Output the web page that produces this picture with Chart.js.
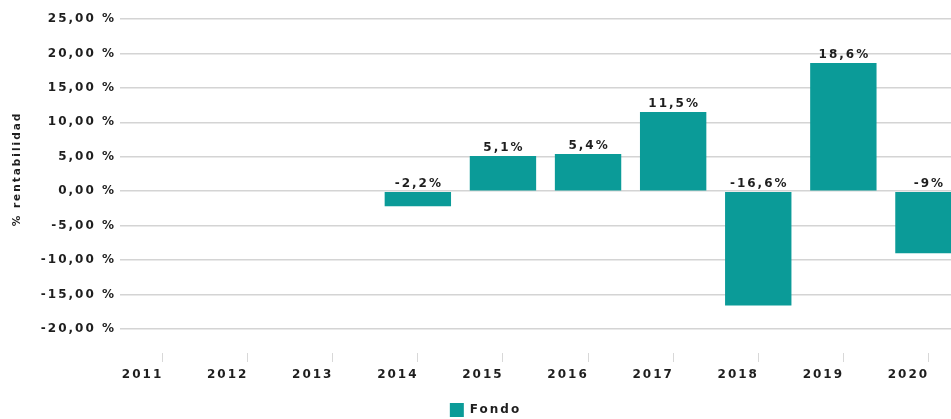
<!DOCTYPE html>
<html>
<head>
<meta charset="utf-8">
<script src="https://cdn.jsdelivr.net/npm/chart.js@4/dist/chart.umd.min.js"></script>
<style>
    html, body { margin: 0; padding: 0; background: #fff; overflow: hidden; }
    .wrapper { width: 975px; height: 419px; }
</style>
</head>
<body>
<div class="wrapper"><canvas id="rentabilidad"></canvas></div>
<script>
const years = ['2011', '2012', '2013', '2014', '2015', '2016', '2017', '2018', '2019', '2020'];
const fondo = [null, null, null, -2.2, 5.1, 5.4, 11.5, -16.6, 18.6, -9];
const yTicks = [-20, -15, -10, -5, 0, 5, 10, 15, 20, 25];
const yTitle = '% rentabilidad';

const TEXT = '#1e1e1e';
const TEAL = '#0b9b98';
const FONT = '"DejaVu Sans", Verdana, sans-serif';

const fmtPct = (v) => `${String(v).replace('.', ',')}%`;

// the picture has widely spaced letters
const spacing = {
    id: 'spacing',
    beforeUpdate(chart) { chart.ctx.letterSpacing = '2px'; },
    beforeDraw(chart) { chart.ctx.letterSpacing = '2px'; }
};

const barLabels = {
    id: 'barLabels',
    afterDatasetsDraw(chart) {
        const ctx = chart.ctx;
        const meta = chart.getDatasetMeta(0);
        ctx.save();
        ctx.font = `bold 12px ${FONT}`;
        ctx.fillStyle = TEXT;
        ctx.textAlign = 'center';
        ctx.textBaseline = 'bottom';
        meta.data.forEach((bar, i) => {
            const v = fondo[i];
            if (v === null) return;
            const top = Math.min(bar.y, bar.base);
            ctx.fillText(fmtPct(v), bar.x + 1, top - 2);
        });
        ctx.restore();
    }
};

// axis title sits a little above the middle in the original
const axisTitle = {
    id: 'axisTitle',
    afterDraw(chart) {
        const ctx = chart.ctx;
        const area = chart.chartArea;
        ctx.save();
        ctx.font = `bold 10.5px ${FONT}`;
        ctx.fillStyle = TEXT;
        ctx.textAlign = 'center';
        ctx.textBaseline = 'middle';
        ctx.translate(17, (area.top + area.bottom) / 2 - 17);
        ctx.rotate(-Math.PI / 2);
        ctx.fillText(yTitle, 0, 0);
        ctx.restore();
    }
};

const chartEle = document.getElementById('rentabilidad');

new Chart(chartEle, {
    type: 'bar',
    data: {
        labels: years,
        datasets: [{
            label: 'Fondo',
            data: fondo,
            backgroundColor: TEAL,
            borderWidth: 0,
            barPercentage: 0.78,
            categoryPercentage: 1
        }]
    },
    options: {
        responsive: true,
        maintainAspectRatio: false,
        animation: false,
        layout: {
            padding: { top: 19, right: 4, bottom: -8, left: 0 }
        },
        plugins: {
            legend: {
                position: 'bottom',
                labels: {
                    boxWidth: 14,
                    boxHeight: 14,
                    padding: 8,
                    color: TEXT,
                    font: { family: FONT, size: 12, weight: 'bold' }
                }
            },
            tooltip: { enabled: false }
        },
        scales: {
            x: {
                offset: true,
                afterFit: (axis) => {
                    axis.height = 42;
                },
                border: { display: false },
                grid: {
                    offset: false,
                    drawOnChartArea: false,
                    tickLength: 9,
                    color: '#d8d8d8'
                },
                ticks: {
                    color: TEXT,
                    labelOffset: -20,
                    padding: 6,
                    maxRotation: 0,
                    font: { family: FONT, size: 12, weight: 'bold' }
                }
            },
            y: {
                min: -23.5,
                max: 25,
                afterBuildTicks: (axis) => {
                    axis.ticks = yTicks.map(v => ({ value: v }));
                },
                afterFit: (axis) => {
                    axis.width = 120;
                },
                border: { display: false },
                grid: {
                    color: '#d4d4d4',
                    lineWidth: 1.5,
                    drawTicks: false
                },
                ticks: {
                    color: TEXT,
                    padding: 4,
                    callback: (v) => `${Number(v).toFixed(2).replace('.', ',')} %`,
                    font: { family: FONT, size: 12, weight: 'bold' }
                }
            }
        }
    },
    plugins: [spacing, barLabels, axisTitle]
});
</script>
</body>
</html>
